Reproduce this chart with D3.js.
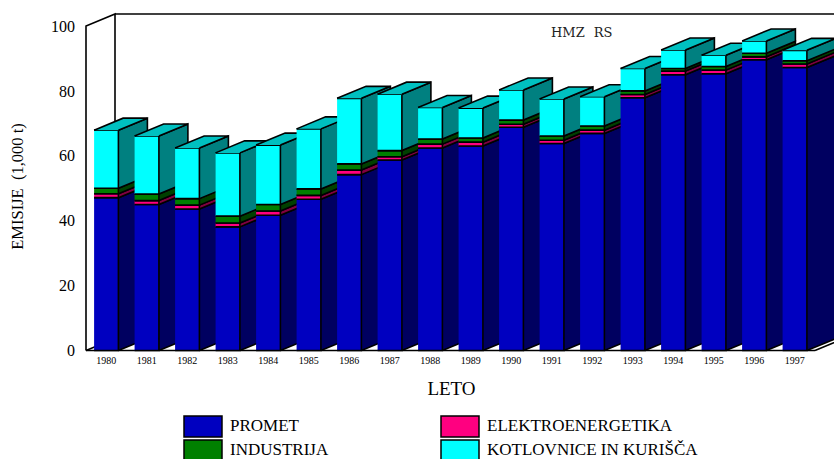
<!DOCTYPE html>
<html><head><meta charset="utf-8">
<style>html,body{margin:0;padding:0;background:#fff;overflow:hidden}svg{display:block}</style>
<script src="https://cdn.jsdelivr.net/npm/d3@7"></script></head>
<body><svg width="834" height="459"></svg>
<script>
const years=[1980,1981,1982,1983,1984,1985,1986,1987,1988,1989,1990,1991,1992,1993,1994,1995,1996,1997];
const promet=[47.1,45.0,43.6,38.1,41.7,46.6,54.2,58.7,62.4,63.0,68.8,63.8,66.9,77.9,85.0,85.3,89.6,87.2];
const elektro=[1.2,1.2,1.2,1.2,1.3,1.2,1.4,1.0,1.2,1.2,0.9,1.0,1.0,1.0,1.1,1.1,0.9,1.1];
const industrija=[1.7,2.0,2.0,2.1,2.0,2.0,1.9,1.9,1.6,1.3,1.3,1.3,1.3,1.1,0.8,1.1,1.1,1.0];
const kotlovnice=[17.9,17.9,15.6,19.5,18.3,18.5,20.2,17.4,9.7,9.2,9.3,11.4,9.0,6.9,5.7,3.5,3.8,3.2];
const seriesNames=["PROMET","ELEKTROENERGETIKA","INDUSTRIJA","KOTLOVNICE IN KURIŠČA"];
const frontColors=["#0000c0","#ff0080","#008000","#00ffff"];
const sideColors=["#000060","#800040","#004000","#008080"];
const topColor="#00c0c0";
const yTicks=[0,20,40,60,80,100];

const serif='"Liberation Serif","Times New Roman",serif';
const svg=d3.select("svg");
const x=d3.scaleBand().domain(years).range([86,815]).paddingInner(0.4).paddingOuter(0.2);
const y=d3.scaleLinear().domain([0,100]).range([350.5,26]);
const dx=29,dy=-12;
const rows=years.map((yr,i)=>({yr,a:promet[i],b:elektro[i],c:industrija[i],d:kotlovnice[i]}));
const stacked=d3.stack().keys(["a","b","c","d"])(rows);

const line=(p,fill,sw=1.6)=>svg.append("path").attr("d",d3.line()(p)).attr("fill",fill).attr("stroke","#000").attr("stroke-width",sw).attr("stroke-linejoin","miter");
const [x0,x1]=x.range(),y0=y(0),y1=y(100);
// walls and floor
line([[x0,y0],[x0,y1],[x0+dx,y1+dy],[x0+dx,y0+dy]],"#fff");
line([[x0+dx,y1+dy],[834+dx,y1+dy]],"none");
line([[x0,y0],[x0+dx,y0+dy],[x1+dx,y0+dy],[x1,y0]],"#fff");
line([[x0,y0],[x1,y0]],"none");

// columns, left to right so that nearer faces cover earlier sides
years.forEach((yr,i)=>{
  const l=x(yr),r=l+x.bandwidth();
  stacked.forEach((s,k)=>{
    const lo=y(s[i][0]),hi=y(s[i][1]);
    line([[r,lo],[r+dx,lo+dy],[r+dx,hi+dy],[r,hi]],sideColors[k]);
    line([[l,lo],[r,lo],[r,hi],[l,hi]],frontColors[k]);
  });
  const t=y(stacked[3][i][1]);
  line([[l,t],[l+dx,t+dy],[r+dx,t+dy],[r,t]],topColor);
});

// axes
const ya=svg.append("g").attr("transform","translate(78,0)").call(d3.axisLeft(y).tickValues(yTicks).tickSize(0).tickPadding(3));
ya.select(".domain").remove();
ya.selectAll("text").attr("font-family",serif).attr("font-size",16).attr("fill","#000");
const xa=svg.append("g").attr("transform",`translate(0,${y0+3})`).call(d3.axisBottom(x).tickSize(0).tickPadding(3));
xa.select(".domain").remove();
xa.selectAll("text").attr("font-family",serif).attr("font-size",10).attr("fill","#000");

const label=(t,px,py,fs,extra={})=>{const e=svg.append("text").attr("x",px).attr("y",py).attr("font-family",serif).attr("font-size",fs).attr("fill","#000").text(t);
  Object.entries(extra).forEach(([k,v])=>e.attr(k,v));return e;};
label("LETO",451.5,395,19,{"text-anchor":"middle"});
label("EMISIJE  (1,000 t)",0,0,16.5,{"text-anchor":"middle","transform":"translate(22.5,186.5) rotate(-90)"}).style("white-space","pre");
label("HMZ RS",551,37,13,{"word-spacing":"5px","fill":"#222"}).attr("font-family",'"DejaVu Serif",serif');

// legend
const legendPos=[[184,416],[441,416],[184,440],[441,440]];
seriesNames.forEach((n,k)=>{
  const [lx,ly]=legendPos[k];
  svg.append("rect").attr("x",lx).attr("y",ly).attr("width",38).attr("height",21).attr("fill",frontColors[k]).attr("stroke","#000").attr("stroke-width",1.5);
  label(n,lx+46,ly+15,17);
});
</script></body></html>
